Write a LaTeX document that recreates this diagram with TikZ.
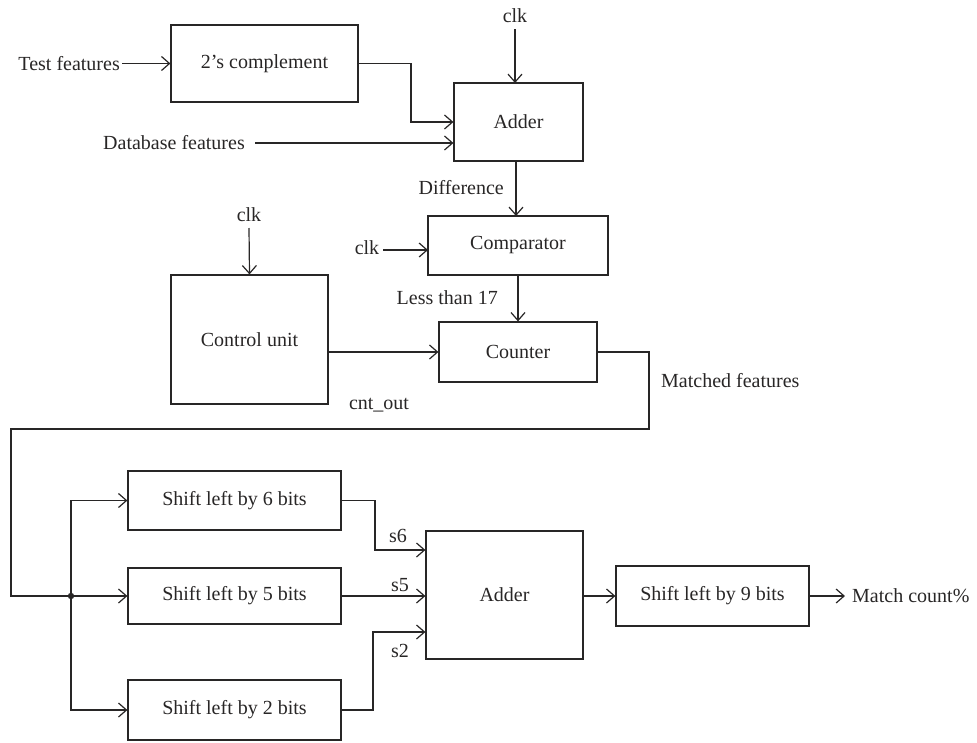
\documentclass[tikz,border=0pt]{standalone}
\usepackage{fontspec}
\setmainfont{Liberation Serif}
\usetikzlibrary{arrows.meta}
\definecolor{ink}{RGB}{40,38,38}
\begin{document}
\begin{tikzpicture}[x=1pt,y=-1pt,
  every node/.style={font=\fontsize{20}{24}\selectfont, text=ink},
  blk/.style={draw=ink, line width=1.2pt, rectangle, inner sep=0pt},
  lbl/.style={inner sep=0pt},
  wire/.style={draw=ink, line width=1.2pt},
  arr/.style={wire, -{Straight Barb[length=8pt,width=14pt,line width=1.2pt]}}]
\useasboundingbox (0,0) rectangle (977,742);

% processing blocks
\node[blk, minimum width=187, minimum height=77] (comp2) at (264.5,63.5) {2’s complement};
\node[blk, minimum width=129, minimum height=78] (add1) at (518.5,122) {Adder};
\node[blk, minimum width=180, minimum height=59] (cmp) at (518,245.5) {Comparator};
\node[blk, minimum width=157, minimum height=129] (ctrl) at (249.5,339.5) {Control unit};
\node[blk, minimum width=158, minimum height=60] (cnt) at (518,352) {Counter};
\node[blk, minimum width=213, minimum height=59] (sh6) at (234.5,500.5) {Shift left by 6 bits};
\node[blk, minimum width=213, minimum height=56] (sh5) at (234.5,596) {Shift left by 5 bits};
\node[blk, minimum width=213, minimum height=60] (sh2) at (234.5,710) {Shift left by 2 bits};
\node[blk, minimum width=157, minimum height=128] (add2) at (504.5,595) {Adder};
\node[blk, minimum width=193, minimum height=60] (sh9) at (712.5,596) {Shift left by 9 bits};

% free text
\node[lbl, anchor=east] (tf) at (120,63.5) {Test features};
\node[lbl, anchor=east] (db) at (245,143) {Database features};
\node[lbl] (clk1) at (515,16) {clk};
\node[lbl] (clk2) at (367,248) {clk};
\node[lbl] (clk3) at (249,215) {clk};
\node[lbl, anchor=east] (diff) at (504,188) {Difference};
\node[lbl, anchor=east] (lt) at (498,298) {Less than 17};
\node[lbl] (co) at (379,405) {cnt\_out};
\node[lbl, anchor=west] (mf) at (661,381) {Matched features};
\node[lbl] (s6) at (398,536) {s6};
\node[lbl] (s5) at (400,585) {s5};
\node[lbl] (s2) at (400,651) {s2};
\node[lbl, anchor=west] (mc) at (852,596) {Match count\%};

% helper points
\coordinate (jn) at (71,596);
\coordinate (in6) at (add2.west |- 0,550);
\coordinate (in2) at (add2.west |- 0,632);

% upper section connectors
\draw[arr] ([xshift=2]tf.east) -- (comp2.west);
\draw[arr] (comp2.east) -| (411,122) -- (add1.west);
\draw[arr] ([xshift=10]db.east) -- (db.east -| add1.west);
\draw[arr] (515,29) -- (515,83);
\draw[arr] (516,161) -- (516,216);
\draw[arr] (383,250) -- (428,250);
\draw[arr] (cmp.south) -- (cnt.north);
\draw[arr] (249,228) -- (ctrl.north);
\draw[arr] (ctrl.east |- cnt.west) -- (cnt.west);

% counter output bus to the shift stages
\draw[wire] (cnt.east) -| (649,429) -| (11,596) -- (jn);
\draw[arr] (jn) -- (sh5.west);
\draw[arr] (jn) |- (sh6.west);
\draw[arr] (jn) |- (sh2.west);
\fill[ink] (jn) circle (3.2);

% shift outputs into the final adder
\draw[arr] (sh6.east) -| (375,550) -- (in6);
\draw[arr] (sh5.east) -- (sh5.east -| add2.west);
\draw[arr] (sh2.east) -| (373,632) -- (in2);
\draw[arr] (add2.east |- sh9.west) -- (sh9.west);
\draw[arr] (sh9.east) -- (845,596);
\end{tikzpicture}
\end{document}
